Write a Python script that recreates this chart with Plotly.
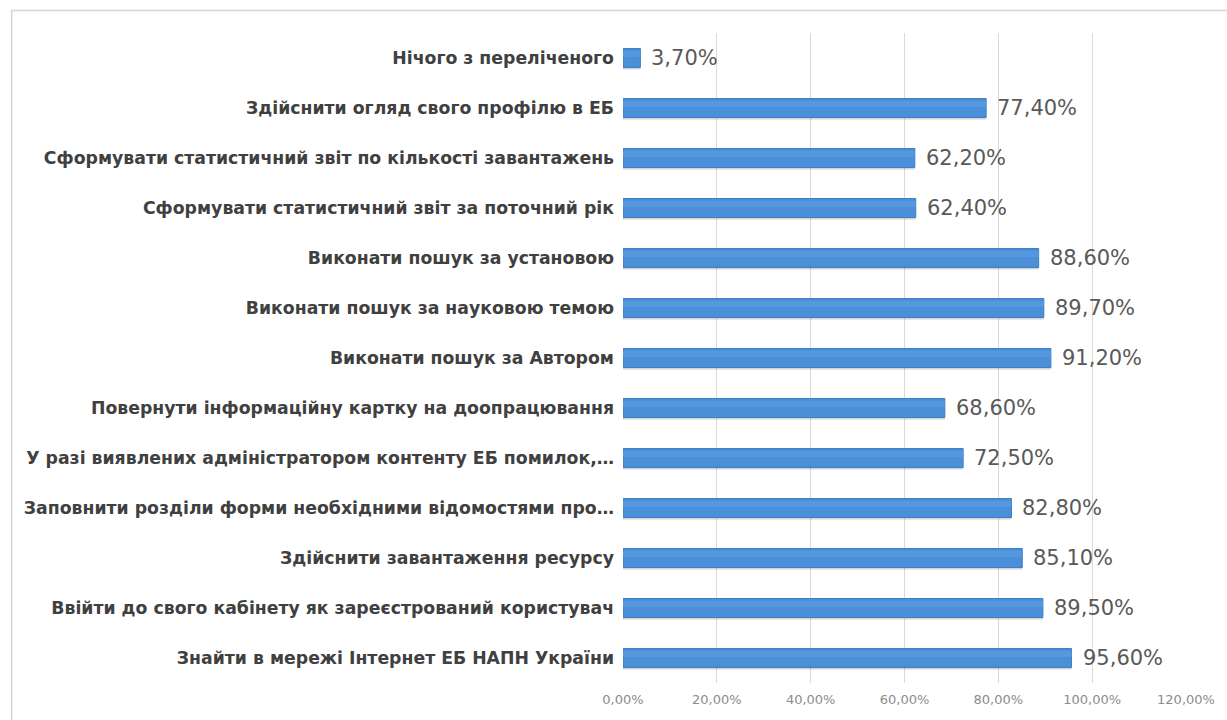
import plotly.graph_objects as go

# Survey tasks (bottom to top) and share of respondents, %
tasks = [
    "Знайти в мережі Інтернет ЕБ НАПН України",
    "Ввійти до свого кабінету як зареєстрований користувач",
    "Здійснити завантаження ресурсу",
    "Заповнити розділи форми необхідними відомостями про…",
    "У разі виявлених адміністратором контенту ЕБ помилок,…",
    "Повернути інформаційну картку на доопрацювання",
    "Виконати пошук за Автором",
    "Виконати пошук за науковою темою",
    "Виконати пошук за установою",
    "Сформувати статистичний звіт за поточний рік",
    "Сформувати статистичний звіт по кількості завантажень",
    "Здійснити огляд свого профілю в ЕБ",
    "Нічого з переліченого",
]
shares = [95.6, 89.5, 85.1, 82.8, 72.5, 68.6, 91.2, 89.7, 88.6, 62.4, 62.2, 77.4, 3.7]

tick_values = [0, 20, 40, 60, 80, 100, 120]
tick_labels = [f"{v:.2f}".replace(".", ",") + "%" for v in tick_values]

W, H = 1227, 720
L, R, T, B = 623, 39, 33, 37
pw, ph = W - L - R, H - T - B


def px_x(px):
    return (px - L) / pw


def px_y(py):
    return (H - B - py) / ph


fig = go.Figure()

# soft drop shadow under each bar
fig.add_trace(go.Bar(
    x=shares, y=tasks, orientation="h",
    width=0.38, offset=-0.23,
    marker=dict(color="rgba(80,80,80,0.25)", line=dict(width=0)),
    hoverinfo="skip", showlegend=False,
))
# main bars
fig.add_trace(go.Bar(
    x=shares, y=tasks, orientation="h",
    width=0.38, offset=-0.19,
    marker=dict(color="#4a8fd8", line=dict(color="#3f7fc6", width=1)),
    showlegend=False,
))
# slightly lighter upper band for a shaded look
fig.add_trace(go.Bar(
    x=shares, y=tasks, orientation="h",
    width=0.12, offset=0.02,
    marker=dict(color="#5598de", line=dict(width=0)),
    hoverinfo="skip", showlegend=False,
))

# value labels
for t, v in zip(tasks, shares):
    fig.add_annotation(
        x=v, y=t, xref="x", yref="y",
        text=f"{v:.2f}".replace(".", ",") + "%",
        showarrow=False, xanchor="left", yanchor="middle",
        xshift=9,
        font=dict(family="DejaVu Sans", size=21, color="#595959"),
    )

# outer chart frame
fig.add_shape(
    type="rect", xref="paper", yref="paper",
    x0=px_x(9.5), x1=px_x(1240), y0=px_y(735), y1=px_y(10.5),
    line=dict(color="#d4d4d4", width=1.5), fillcolor="rgba(0,0,0,0)",
    layer="below",
)

fig.update_layout(
    width=W, height=H,
    margin=dict(l=L, r=R, t=T, b=B, pad=0),
    paper_bgcolor="white", plot_bgcolor="white",
    barmode="overlay",
    xaxis=dict(
        range=[0, 120], tickvals=tick_values, ticktext=tick_labels,
        showgrid=True, gridcolor="#d9d9d9", gridwidth=1,
        zeroline=False, showline=False, ticks="",
        tickfont=dict(family="DejaVu Sans", size=13, color="#8c8c8c"),
        ticklabelstandoff=7,
        fixedrange=True,
    ),
    yaxis=dict(
        categoryorder="array", categoryarray=tasks,
        showgrid=False, zeroline=False, showline=False, ticks="",
        tickfont=dict(family="DejaVu Sans", size=17.3, color="#404040", weight="bold"),
        ticklabelstandoff=8,
        range=[-0.5, len(tasks) - 0.5],
        fixedrange=True,
    ),
    showlegend=False,
)

fig.write_html("out.html")
